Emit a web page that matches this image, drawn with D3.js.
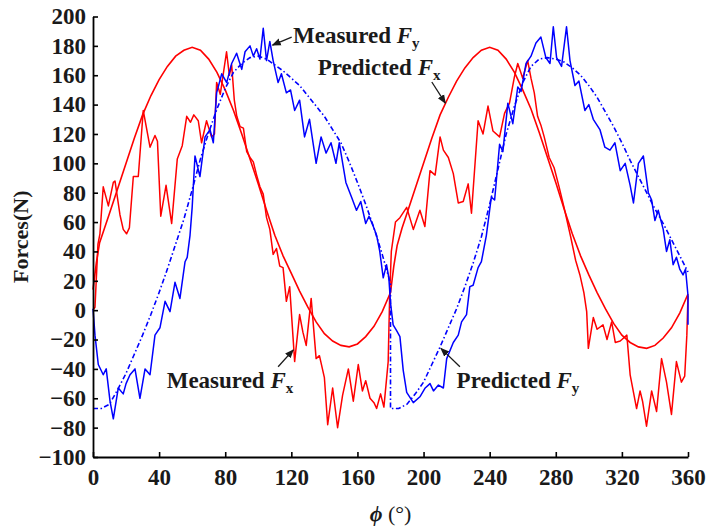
<!DOCTYPE html>
<html><head><meta charset="utf-8">
<script src="https://cdn.jsdelivr.net/npm/d3@7"></script>
<style>
body{margin:0;background:#fff;}
svg text{font-family:"Liberation Serif","Times New Roman",serif;font-weight:bold;fill:#1a1a1a;}
</style></head>
<body><svg id="c" width="710" height="526"></svg>
<script>
// ---- data ----
const xTicks = [0,40,80,120,160,200,240,280,320,360];
const yTicks = [-100,-80,-60,-40,-20,0,20,40,60,80,100,120,140,160,180,200];

const predFxPhi = [0,2,4,7,10,15,20,25,30,35,40,45,50,55,60,65,70,75,80,85,90,95,100,105,110,115,120,125,130,135,140,145,150,155,160,165,170,175,180,
  182,184,187,190,195,200,205,210,215,220,225,230,235,240,245,250,255,260,265,270,275,280,285,290,295,300,305,310,315,320,325,330,335,340,345,350,355,360];
const predFxVal = [14,32,46,56,66,83,100,117,133,146,157,166,173,177,179,177,171,162,150,136,120,103,86,68,51,37,25,13,2,-8,-16,-21,-24,-25,-23,-18,-11,-1,12,
  30,44,56,66,83,100,117,133,145,156,165,172,177,179,177,171,162,150,137,121,104,87,69,52,37,24,12,1,-9,-17,-22,-25,-26,-24,-19,-12,-2,11];

const predFyPhi = [0,5,10,15,20,25,30,35,40,45,50,55,60,65,70,75,80,85,90,95,100,105,110,115,120,125,130,135,140,145,150,155,160,165,170,175,178,180,
  180,185,190,195,200,205,210,215,220,225,230,235,240,245,250,255,260,265,270,275,280,285,290,295,300,305,310,315,320,325,330,335,340,345,350,355,360];
const predFyVal = [-67,-67,-64,-54,-43,-30,-17,-3,12,28,45,62,82,103,121,137,151,162,168,172,173,171,167,163,158,153,146,139,132,123,114,101,87,72,56,38,26,18,
  -67,-67,-64,-57,-49,-37,-25,-12,1,16,32,50,72,96,120,139,155,166,171,172,171,169,165,160,153,145,135,125,114,102,91,80,69,59,48,37,26];

const measFxPhi = [0,1.2,3,4.2,6.2,9.3,12.3,13.3,16.3,18.3,20.3,22,24.4,27.4,30.4,34.5,37.5,39,41,44.2,47.6,51,54,56.7,59,61,63.7,65.7,68.7,71.7,73.5,74.8,77,80.8,82.5,83.9,85.5,87,89,91,93,95,97,99,101,103,105,107,109,111,113,115,117,119,122,125,127,129,132,135,137,140,142,145,148,151,154.5,157.5,160.5,163,165,167.6,170,171.6,174,176,178.6,179.5,
  180.5,183,185.7,189.8,193.8,197.8,200.8,203.9,207,210,212,215,218,221,224,227,229,233,236,239,242,246,249,252,255,257,260,263,265,267,269,271,273,276,279,282,285,287,289,292,294.6,297,298.7,299.7,302.7,305,308.6,311,313.8,316,319,323,325,328.9,331,332.5,334.9,338,341,344,347,350,353,356,358,359.3,360];
const measFxVal = [0,2,45,52,84,71,87,88,65,55,52,56,91,91,136,111,119,115,64,85,59,103,112,132,128,133,129,114,129,118,120,155,147,176,160,167,143,132,125,124,108,104,101,92,84,79,63,55,38,42,30,29,6,16,-35,-3,-15,-24,8,-33,-31,-46,-78,-53,-80,-58,-40,-62,-37,-55,-48,-60,-63,-67,-57,-66,-35,10,
  40,60,63,70,55,68,57,95,92,118,109,104,93,73,74,86,66,129,120,139,122,118,134,141,159,168,158,170,158,148,132,126,118,104,97,84,70,60,50,34,24,12,-1,-26,-5,-13,-10,-20,-8,-22,-21,-17,-44,-67,-55,-62,-79,-55,-69,-33,-49,-71,-35,-49,-45,-17,10];

const measFyPhi = [0,1.2,3.2,6.2,8,10.3,12.3,15.3,18.3,20,22.4,25.4,28.4,31.5,34.5,37.5,40.5,43.6,46.6,49.6,52.6,55.7,57,58.7,60,61.7,64.7,67.8,70.8,72.8,74.8,77.9,80.9,83.9,86.9,90,92,95,97,99,101,103,105,107,109,112,114,117,119.5,122,125,128,131,135,138,141,144,147,149,153,156.4,159.4,162,165,167,169.6,171.6,173.5,175.6,177.6,179,180,
  181.6,183.7,185.7,187.7,189.8,193.8,197.8,201,203.9,206,209,212,214,218,221,223,226,228,230,233,235,238,241,243,246,248,251,254,257,259,262,265,268,271,274,276.5,278.5,280.5,283.5,286.5,288.6,291.6,294,297.6,300,302.7,306.7,309.7,312.8,315.8,319,322,325,327,330,333,336,338,340,342,345,347,349,351,353,355,357,358.5,360,360];
const measFyVal = [1,-17,-37,-44,-40,-62,-74,-53,-57,-50,-44,-40,-60,-40,-44,-17,-12,6,-1,19,8,33,36,51,70,105,91,118,123,114,148,161,155,168,175,164,176,180,173,178,171,192,170,183,170,155,161,148,150,136,143,118,130,100,118,107,114,100,114,87,77,68,74,59,64,57,51,40,22,31,22,5,
  -10,-14,-18,-41,-56,-63,-59,-53,-50,-55,-51,-53,-33,-22,-17,-8,-3,16,17,29,33,51,77,75,113,108,141,127,152,149,168,173,182,186,172,168,193,172,166,193,170,153,156,136,140,130,123,111,109,114,95,100,85,73,100,105,80,75,61,68,55,40,48,31,36,28,24,28,10,-10];

// annotations: [label, subscript, textPhi, textVal, tailPhi, tailVal, headPhi, headVal]
const notes = [
  ["Measured ", "y", 121, 182, 120.2, 186, 108.6, 180.5],
  ["Predicted ", "x", 136, 160, 205, 155.4, 213.2, 141],
  ["Measured ", "x", 44.6, -53, 112, -38.5, 121.2, -27],
  ["Predicted ", "y", 220, -53, 222, -38.5, 210.5, -26]
];

// ---- drawing ----
const svg = d3.select("#c");
const x = d3.scaleLinear().domain([0,360]).range([93,688]);
const y = d3.scaleLinear().domain([-100,200]).range([457,16.5]);

const line = (px, pv) => d3.line().x((d,i)=>x(px[i])).y((d,i)=>y(pv[i]))(pv);

svg.append("path").attr("d", line(predFxPhi, predFxVal)).attr("fill","none").attr("stroke","#ff0000").attr("stroke-width",1.6);
svg.append("path").attr("d", line(measFxPhi, measFxVal)).attr("fill","none").attr("stroke","#ff0000").attr("stroke-width",1.5).attr("stroke-linejoin","round");
svg.append("path").attr("d", line(measFyPhi, measFyVal)).attr("fill","none").attr("stroke","#0000ff").attr("stroke-width",1.5).attr("stroke-linejoin","round");
svg.append("path").attr("d", line(predFyPhi, predFyVal)).attr("fill","none").attr("stroke","#0000ff").attr("stroke-width",1.6).attr("stroke-dasharray","5,2.5,1.5,2.5");

const xa = svg.append("g").attr("transform",`translate(0,${y(-100)})`)
  .call(d3.axisBottom(x).tickValues(xTicks).tickSize(-5).tickSizeOuter(0).tickPadding(12));
const ya = svg.append("g").attr("transform",`translate(${x(0)},0)`)
  .call(d3.axisLeft(y).tickValues(yTicks).tickSize(-5).tickSizeOuter(0).tickPadding(7));
[xa,ya].forEach(a=>{
  a.selectAll("path").attr("stroke","#000").attr("stroke-width",1.8);
  a.selectAll("line").attr("stroke","#000").attr("stroke-width",1.6);
  a.selectAll("text").attr("font-size",23).attr("font-family","Liberation Serif").attr("font-weight","bold").attr("fill","#1a1a1a");
});

svg.append("text").attr("transform",`translate(28,${y(50)}) rotate(-90)`).attr("text-anchor","middle")
  .attr("font-size",22).text("Forces(N)");
const xl = svg.append("text").attr("x",x(180)).attr("y",521).attr("text-anchor","middle").attr("font-size",22);
xl.append("tspan").attr("font-style","italic").text("ϕ");
xl.append("tspan").attr("font-weight","normal").text(" (°)");

svg.append("defs").append("marker").attr("id","ah").attr("viewBox","0 0 10 10").attr("refX",9).attr("refY",5)
  .attr("markerWidth",7).attr("markerHeight",7).attr("orient","auto")
  .append("path").attr("d","M0,1 L10,5 L0,9 Z").attr("fill","#1a1a1a");

notes.forEach(n=>{
  svg.append("line").attr("x1",x(n[4])).attr("y1",y(n[5])).attr("x2",x(n[6])).attr("y2",y(n[7]))
    .attr("stroke","#1a1a1a").attr("stroke-width",1.3).attr("marker-end","url(#ah)");
  const t = svg.append("text").attr("x",x(n[2])).attr("y",y(n[3])).attr("font-size",23);
  t.append("tspan").text(n[0]);
  t.append("tspan").attr("font-style","italic").text("F");
  t.append("tspan").attr("font-size",15).attr("dy",5).text(n[1]);
});
</script></body></html>
